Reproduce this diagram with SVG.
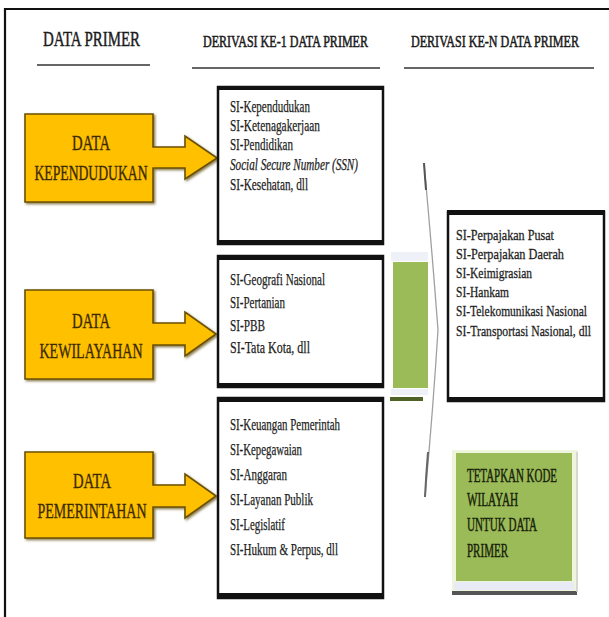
<svg xmlns="http://www.w3.org/2000/svg" width="609" height="617" viewBox="0 0 609 617">
  <style>
    .hdr { font-family: "Liberation Serif", "Times New Roman", serif; fill: #1a1a1a; stroke: #1a1a1a; stroke-width: 0.45; }
    .src { font-family: "Liberation Serif", "Times New Roman", serif; font-size: 21px; fill: #3b2a00; stroke: #3b2a00; stroke-width: 0.35; text-anchor: middle; }
    .item { font-family: "Liberation Serif", "Times New Roman", serif; font-size: 16px; fill: #1e1e1e; stroke: #1e1e1e; stroke-width: 0.25; }
    .itemR { font-family: "Liberation Serif", "Times New Roman", serif; font-size: 13px; fill: #1e1e1e; stroke: #1e1e1e; stroke-width: 0.25; }
    .note { font-family: "Liberation Serif", "Times New Roman", serif; font-size: 16px; fill: #18220a; stroke: #18220a; stroke-width: 0.4; }
    .rule { stroke: #333; stroke-width: 1.5; }
    .orange { fill: #FFC000; stroke: #6b5000; stroke-width: 1.6; stroke-linejoin: miter; }
    .panel { fill: #fff; stroke: #111; stroke-width: 2.5; }
    .bar { fill: #111; }
  </style>
  <defs>
    <filter id="soft" x="-5%" y="-5%" width="115%" height="115%">
      <feDropShadow dx="1.5" dy="1.5" stdDeviation="0.8" flood-color="#5a4300" flood-opacity="0.7"/>
    </filter>
  </defs>

  <rect width="609" height="617" fill="#fff"/>

  <!-- outer frame: top and left edges -->
  <path d="M5,617 V9 H609" fill="none" stroke="#111" stroke-width="2.2"/>

  <!-- column headers -->
  <g id="headers">
    <text class="hdr" x="43" y="46" font-size="21" textLength="97" lengthAdjust="spacingAndGlyphs">DATA PRIMER</text>
    <line class="rule" x1="37" y1="65" x2="150" y2="65"/>
    <text class="hdr" transform="translate(203 47) scale(1 1.15)" x="0" y="0" font-size="14" textLength="165" lengthAdjust="spacingAndGlyphs">DERIVASI KE-1 DATA PRIMER</text>
    <line class="rule" x1="192" y1="68" x2="380" y2="68"/>
    <text class="hdr" transform="translate(411 47) scale(1 1.15)" x="0" y="0" font-size="14" textLength="168" lengthAdjust="spacingAndGlyphs">DERIVASI KE-N DATA PRIMER</text>
    <line class="rule" x1="404" y1="68" x2="594" y2="68"/>
  </g>

  <!-- primary data sources (box with arrow) -->
  <g id="src-kependudukan">
    <path class="orange" filter="url(#soft)" d="M25,114 H153 V147 H185 V136 L217,158 L185,179 V168 H153 V202 H25 Z"/>
    <text class="src" x="91" y="150" textLength="38" lengthAdjust="spacingAndGlyphs">DATA</text>
    <text class="src" x="91" y="180" textLength="113" lengthAdjust="spacingAndGlyphs">KEPENDUDUKAN</text>
  </g>
  <g id="src-kewilayahan">
    <path class="orange" filter="url(#soft)" d="M25,290 H153 V323 H185 V312 L216,334 L185,356 V345 H153 V379 H25 Z"/>
    <text class="src" x="91" y="328" textLength="38" lengthAdjust="spacingAndGlyphs">DATA</text>
    <text class="src" x="91" y="358" textLength="103" lengthAdjust="spacingAndGlyphs">KEWILAYAHAN</text>
  </g>
  <g id="src-pemerintahan">
    <path class="orange" filter="url(#soft)" d="M25,452 H153 V485 H185 V474 L216,496 L185,518 V507 H153 V538 H25 Z"/>
    <text class="src" x="92" y="488" textLength="38" lengthAdjust="spacingAndGlyphs">DATA</text>
    <text class="src" x="92" y="518" textLength="109" lengthAdjust="spacingAndGlyphs">PEMERINTAHAN</text>
  </g>

  <!-- first derivation lists -->
  <g id="deriv1-kependudukan">
    <rect class="panel" x="218" y="87" width="165" height="157"/>
    <rect class="bar" x="217" y="86" width="167" height="4"/>
    <rect class="bar" x="217" y="240" width="167" height="5"/>
    <text class="item" x="230" y="112" textLength="80" lengthAdjust="spacingAndGlyphs">SI-Kependudukan</text>
    <text class="item" x="230" y="131" textLength="90" lengthAdjust="spacingAndGlyphs">SI-Ketenagakerjaan</text>
    <text class="item" x="230" y="150" textLength="63" lengthAdjust="spacingAndGlyphs">SI-Pendidikan</text>
    <text class="item" x="230" y="170" font-style="italic" fill="#444" stroke="#444" textLength="128" lengthAdjust="spacingAndGlyphs">Social Secure Number (SSN)</text>
    <text class="item" x="230" y="190" textLength="78" lengthAdjust="spacingAndGlyphs">SI-Kesehatan, dll</text>
  </g>
  <g id="deriv1-kewilayahan">
    <rect class="panel" x="218" y="256" width="165" height="131"/>
    <rect class="bar" x="217" y="255" width="167" height="5"/>
    <rect class="bar" x="217" y="383" width="167" height="5"/>
    <text class="item" x="230" y="285" textLength="95" lengthAdjust="spacingAndGlyphs">SI-Geografi Nasional</text>
    <text class="item" x="230" y="308" textLength="55" lengthAdjust="spacingAndGlyphs">SI-Pertanian</text>
    <text class="item" x="230" y="331" textLength="35" lengthAdjust="spacingAndGlyphs">SI-PBB</text>
    <text class="item" x="230" y="353" textLength="80" lengthAdjust="spacingAndGlyphs">SI-Tata Kota, dll</text>
  </g>
  <g id="deriv1-pemerintahan">
    <rect class="panel" x="218" y="398" width="165" height="200"/>
    <rect class="bar" x="217" y="397" width="167" height="5"/>
    <rect class="bar" x="217" y="593" width="167" height="6"/>
    <text class="item" x="230" y="430" textLength="110" lengthAdjust="spacingAndGlyphs">SI-Keuangan Pemerintah</text>
    <text class="item" x="230" y="455" textLength="72" lengthAdjust="spacingAndGlyphs">SI-Kepegawaian</text>
    <text class="item" x="230" y="480" textLength="57" lengthAdjust="spacingAndGlyphs">SI-Anggaran</text>
    <text class="item" x="230" y="505" textLength="83" lengthAdjust="spacingAndGlyphs">SI-Layanan Publik</text>
    <text class="item" x="230" y="530" textLength="55" lengthAdjust="spacingAndGlyphs">SI-Legislatif</text>
    <text class="item" x="230" y="555" textLength="108" lengthAdjust="spacingAndGlyphs">SI-Hukum &amp; Perpus, dll</text>
  </g>

  <!-- connector: green block and large chevron toward the N-th derivation -->
  <g id="connectors">
    <rect x="391" y="252" width="37" height="9" fill="#eef2f8"/>
    <rect x="393" y="262" width="35" height="126" fill="#9BBB59"/>
    <rect x="391" y="389" width="37" height="6" fill="#eef2f8"/>
    <rect x="390" y="397" width="33" height="4" fill="#4F6228"/>
    <path d="M424,163 Q432,250 438,330 Q433,410 425,497" fill="none" stroke="#a0a0a0" stroke-width="1.3"/>
    <path d="M424,163 Q425,178 426,190" fill="none" stroke="#555" stroke-width="2"/>
    <path d="M428,452 Q426,476 425,497" fill="none" stroke="#666" stroke-width="2"/>
  </g>

  <!-- N-th derivation list -->
  <g id="derivN">
    <rect class="panel" x="448" y="212" width="156" height="189"/>
    <rect class="bar" x="447" y="210" width="158" height="5"/>
    <rect class="bar" x="447" y="397" width="158" height="5"/>
    <text class="itemR" transform="translate(456 240) scale(1 1.15)" x="0" y="0" textLength="98" lengthAdjust="spacingAndGlyphs">SI-Perpajakan Pusat</text>
    <text class="itemR" transform="translate(456 259) scale(1 1.15)" x="0" y="0" textLength="108" lengthAdjust="spacingAndGlyphs">SI-Perpajakan Daerah</text>
    <text class="itemR" transform="translate(456 278) scale(1 1.15)" x="0" y="0" textLength="76" lengthAdjust="spacingAndGlyphs">SI-Keimigrasian</text>
    <text class="itemR" transform="translate(456 297) scale(1 1.15)" x="0" y="0" textLength="53" lengthAdjust="spacingAndGlyphs">SI-Hankam</text>
    <text class="itemR" transform="translate(456 316) scale(1 1.15)" x="0" y="0" textLength="131" lengthAdjust="spacingAndGlyphs">SI-Telekomunikasi Nasional</text>
    <text class="itemR" transform="translate(456 336) scale(1 1.15)" x="0" y="0" textLength="135" lengthAdjust="spacingAndGlyphs">SI-Transportasi Nasional, dll</text>
  </g>

  <!-- note: regional code -->
  <g id="note-kode">
    <rect x="452" y="450" width="126" height="142" fill="#eef5dc"/>
    <rect x="456" y="453" width="116" height="128" fill="#9BBB59"/>
    <rect x="454" y="582" width="120" height="8" fill="#e8eaf6"/>
    <rect x="452" y="591" width="125" height="4" fill="#555"/>
    <line x1="577" y1="452" x2="577" y2="592" stroke="#ccc" stroke-width="1.5"/>
    <text class="note" transform="translate(467 482) scale(1 1.2)" x="0" y="0" textLength="90" lengthAdjust="spacingAndGlyphs">TETAPKAN KODE</text>
    <text class="note" transform="translate(467 506) scale(1 1.2)" x="0" y="0" textLength="51" lengthAdjust="spacingAndGlyphs">WILAYAH</text>
    <text class="note" transform="translate(467 531) scale(1 1.2)" x="0" y="0" textLength="70" lengthAdjust="spacingAndGlyphs">UNTUK DATA</text>
    <text class="note" transform="translate(467 557) scale(1 1.2)" x="0" y="0" textLength="41" lengthAdjust="spacingAndGlyphs">PRIMER</text>
  </g>
</svg>
